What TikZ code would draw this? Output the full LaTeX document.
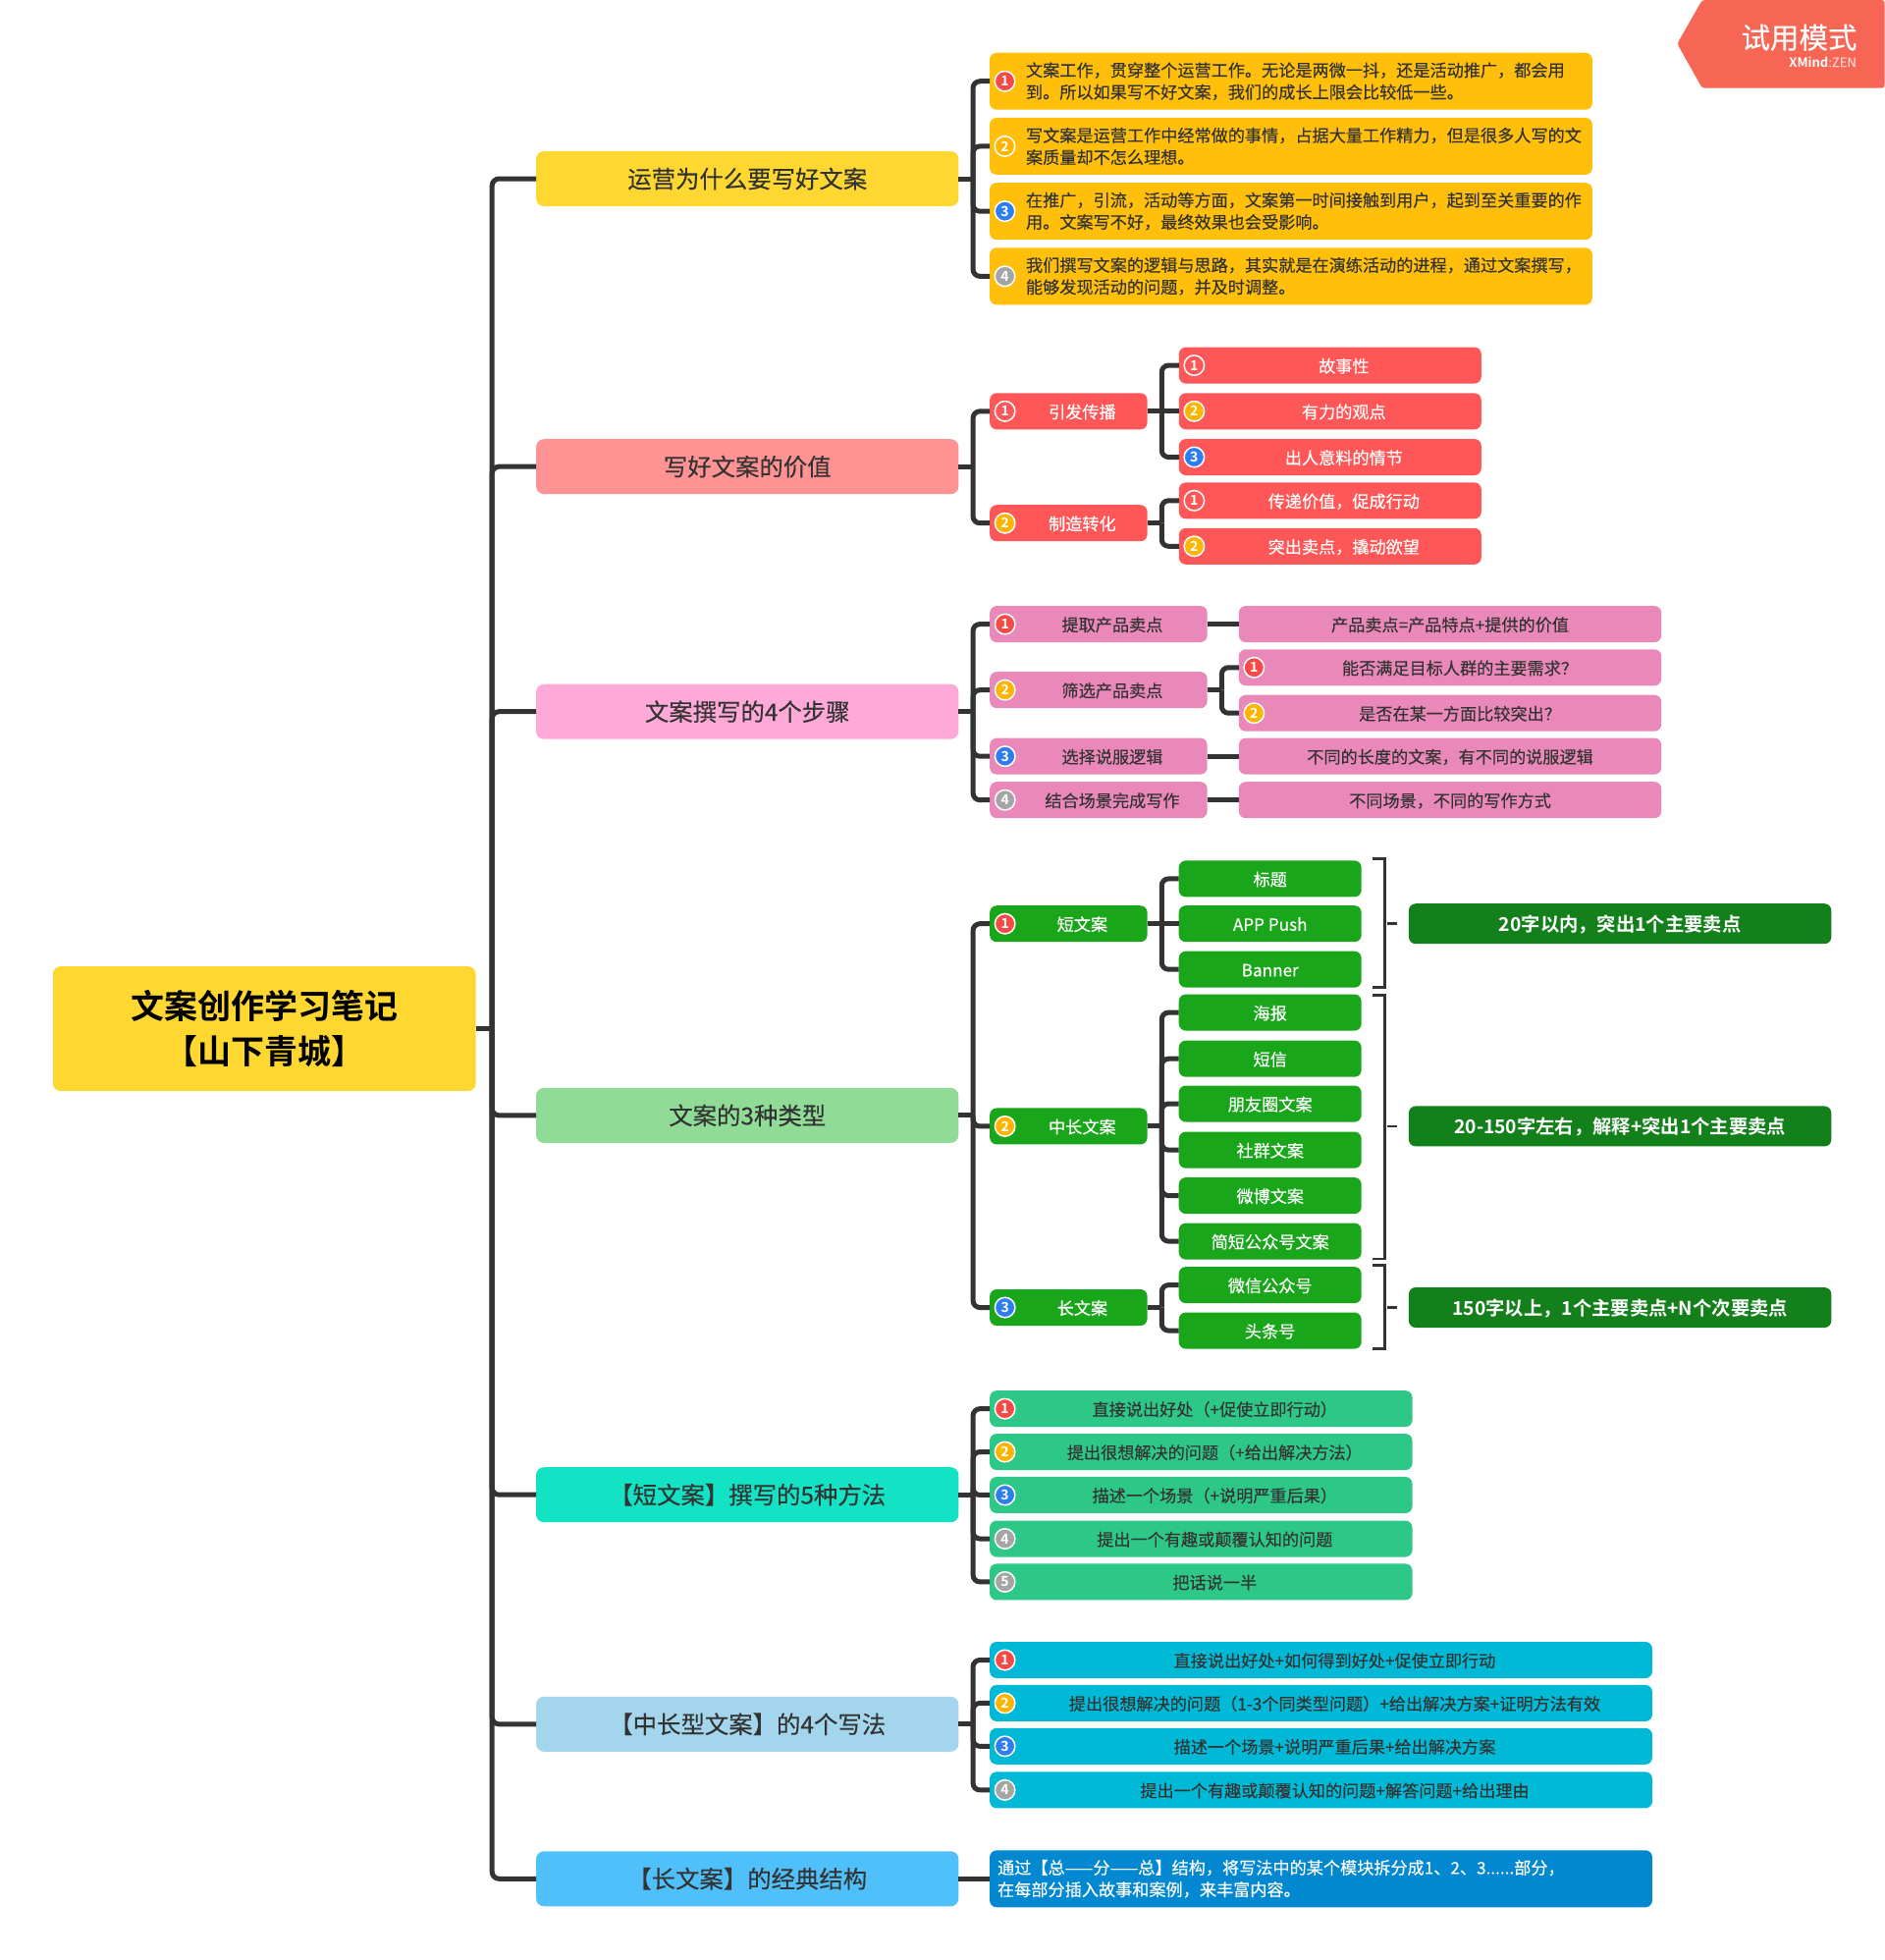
\documentclass[tikz,border=0pt]{standalone}
\usepackage{fontspec}
\setmainfont{Noto Sans CJK SC}[FakeBold=0.22]
\newfontfamily\heavy{Noto Sans CJK SC Bold}
\definecolor{ink}{HTML}{333333}
\definecolor{cRoot}{HTML}{FFD731}
\definecolor{cAmber}{HTML}{FFBF0A}
\definecolor{cSalmon}{HTML}{FF9393}
\definecolor{cRed}{HTML}{FF5757}
\definecolor{cPink}{HTML}{FFA9D9}
\definecolor{cRose}{HTML}{E988B9}
\definecolor{cMint}{HTML}{90DC96}
\definecolor{cGreen}{HTML}{19A61A}
\definecolor{cDeep}{HTML}{14801C}
\definecolor{cAqua}{HTML}{11E3C4}
\definecolor{cSea}{HTML}{2DC788}
\definecolor{cPale}{HTML}{A3D6EC}
\definecolor{cCyan}{HTML}{00B9D6}
\definecolor{cSky}{HTML}{50C0FA}
\definecolor{cBlue}{HTML}{0288D1}
\definecolor{mRed}{HTML}{F54A45}
\definecolor{mAmb}{HTML}{FFB400}
\definecolor{mBlu}{HTML}{2E7EF0}
\definecolor{mGry}{HTML}{A5A5A5}
\definecolor{cTag}{HTML}{F76554}
\tikzset{
  box/.style={rectangle,rounded corners=7pt,inner sep=0pt,outer sep=0pt,minimum height=37pt,text=ink,font=\fontsize{17.15}{22.3}\selectfont},
  lift/.style={text height=16.3pt,text depth=2pt},
  rootbox/.style={box,fill=cRoot,minimum width=431pt,minimum height=127pt,text=black,align=center,rounded corners=8pt,font=\fontsize{34}{46}\selectfont\heavy},
  mainbox/.style={box,minimum width=430.5pt,minimum height=56pt,rounded corners=8pt,font=\fontsize{24.4}{30}\selectfont},
  para/.style={box,fill=cAmber,minimum width=614pt,minimum height=58pt},
  redp/.style={box,lift,fill=cRed,text=white,minimum width=160.5pt},
  redc/.style={box,lift,fill=cRed,text=white,minimum width=308pt},
  rosel/.style={box,lift,fill=cRose,minimum width=221.5pt},
  roser/.style={box,lift,fill=cRose,minimum width=430.5pt},
  grnp/.style={box,lift,fill=cGreen,text=white,minimum width=160.5pt},
  grnc/.style={box,lift,fill=cGreen,text=white,minimum width=186pt},
  grns/.style={box,fill=cDeep,text=white,minimum width=430.5pt,minimum height=41pt,text height=18pt,text depth=2pt,font=\fontsize{19.3}{24}\selectfont\heavy},
  seabox/.style={box,lift,fill=cSea,minimum width=430.5pt},
  cyanbox/.style={box,lift,fill=cCyan,minimum width=675pt},
  bluebox/.style={box,fill=cBlue,text=white,minimum width=675pt,minimum height=58pt},
  dot/.style={circle,draw=white,line width=1.5pt,inner sep=0pt,minimum size=20.5pt,text=white,font=\fontsize{14}{14}\selectfont\heavy},
  conn/.style={draw=ink,line width=5pt},
  brk/.style={draw=ink,line width=2.6pt},
}
\newcommand{\ms}{\hspace*{28pt}}
\newcommand{\ml}{\hspace*{20pt}}
\newcommand{\twol}[4]{\hspace*{#1}\raisebox{-1pt}{\parbox[c]{#2}{\raggedright #3\\#4}}}
\newcommand{\lnk}[2]{\draw[conn] (#1.east) -- ++(11.5,0) coordinate (j);\draw[conn,rounded corners=7pt] (j) |- (#2.west);}
\newcommand{\rlnk}[2]{\draw[conn] (#1.east) -- ++(13,0) coordinate (j);\draw[conn,rounded corners=7pt] (j) |- (#2.west);}
\newcommand{\strt}[2]{\draw[conn] (#1.east) -- (#2.west);}
\newcommand{\dotn}[4]{\node[dot,fill=#3] (#1m) at ([xshift=#2pt]#1.west) {#4};}
\begin{document}
\begin{tikzpicture}[x=1.27321pt,y=-1.27321pt]
\useasboundingbox (0,0) rectangle (1508,1568);
% tag
\fill[cTag,rounded corners=3pt] (1362,0) -- (1342,35) -- (1362,70.5) -- (1508,70.5) -- (1508,0) -- cycle;
\node[inner sep=0pt,text=white,anchor=east,font=\fontsize{29.5}{32}\selectfont] (tagA) at (1486,30) {试用模式};
\node[inner sep=0pt,anchor=east,font=\fontsize{13}{14}\selectfont] (tagB) at (1485.5,49.5) {\textcolor{white}{\heavy XMind}\textcolor{white!70!cTag}{:ZEN}};
% root and main topics
\node[rootbox] (root) at (211.5,823) {文案创作学习笔记\\【山下青城】};
\node[mainbox,fill=cRoot]   (a) at (598,143)  {运营为什么要写好文案};
\node[mainbox,fill=cSalmon] (b) at (598,373.3)  {写好文案的价值};
\node[mainbox,fill=cPink]   (c) at (598,569.3)  {文案撰写的4个步骤};
\node[mainbox,fill=cMint]   (d) at (598,892.3)  {文案的3种类型};
\node[mainbox,fill=cAqua]   (e) at (598,1195.8) {【短文案】撰写的5种方法};
\node[mainbox,fill=cPale]   (f) at (598,1379.3) {【中长型文案】的4个写法};
\node[mainbox,fill=cSky]    (g) at (598,1503) {【长文案】的经典结构};
% group a
\node[para] (a1) at (1033,65)  {\twol{37pt}{577pt}{文案工作，贯穿整个运营工作。无论是两微一抖，还是活动推广，都会用}{到。所以如果写不好文案，我们的成长上限会比较低一些。}};
\node[para] (a2) at (1033,117) {\twol{37pt}{577pt}{写文案是运营工作中经常做的事情，占据大量工作精力，但是很多人写的文}{案质量却不怎么理想。}};
\node[para] (a3) at (1033,169) {\twol{37pt}{577pt}{在推广，引流，活动等方面，文案第一时间接触到用户，起到至关重要的作}{用。文案写不好，最终效果也会受影响。}};
\node[para] (a4) at (1033,221) {\twol{37pt}{577pt}{我们撰写文案的逻辑与思路，其实就是在演练活动的进程，通过文案撰写，}{能够发现活动的问题，并及时调整。}};
% group b
\node[redp] (b1) at (855,329) {\ms 引发传播};
\node[redp] (b2) at (855,418.5) {\ms 制造转化};
\node[redc] (b11) at (1064.3,292.3)   {\ms 故事性};
\node[redc] (b12) at (1064.3,329)   {\ms 有力的观点};
\node[redc] (b13) at (1064.3,365.7) {\ms 出人意料的情节};
\node[redc] (b21) at (1064.3,400.5) {\ms 传递价值，促成行动};
\node[redc] (b22) at (1064.3,437)   {\ms 突出卖点，撬动欲望};
% group c
\node[rosel] (c1) at (879,499.3) {\ms 提取产品卖点};
\node[rosel] (c2) at (879,552) {\ms 筛选产品卖点};
\node[rosel] (c3) at (879,605) {\ms 选择说服逻辑};
\node[rosel] (c4) at (879,640) {\ms 结合场景完成写作};
\node[roser] (c11) at (1160.3,499.3)   {产品卖点=产品特点+提供的价值};
\node[roser] (c21) at (1160.3,534)   {\ml 能否满足目标人群的主要需求？};
\node[roser] (c22) at (1160.3,570.5) {\ml 是否在某一方面比较突出？};
\node[roser] (c31) at (1160.3,605)   {不同的长度的文案，有不同的说服逻辑};
\node[roser] (c41) at (1160.3,640)   {不同场景，不同的写作方式};
% group d
\node[grnp] (d1) at (855,739)  {\ms 短文案};
\node[grnp] (d2) at (855,901)  {\ms 中长文案};
\node[grnp] (d3) at (855,1046) {\ms 长文案};
\node[grnc] (d11) at (1016.3,703)   {标题};
\node[grnc] (d12) at (1016.3,739)   {APP Push};
\node[grnc] (d13) at (1016.3,775.5) {Banner};
\node[grnc] (d21) at (1016.3,810)   {海报};
\node[grnc] (d22) at (1016.3,847)   {短信};
\node[grnc] (d23) at (1016.3,883)   {朋友圈文案};
\node[grnc] (d24) at (1016.3,920)   {社群文案};
\node[grnc] (d25) at (1016.3,956.5) {微博文案};
\node[grnc] (d26) at (1016.3,993)   {简短公众号文案};
\node[grnc] (d31) at (1016.3,1028)  {微信公众号};
\node[grnc] (d32) at (1016.3,1064.5){头条号};
\node[grns] (s1) at (1296.3,739)  {20字以内，突出1个主要卖点};
\node[grns] (s2) at (1296.3,901)  {20-150字左右，解释+突出1个主要卖点};
\node[grns] (s3) at (1296.3,1046) {150字以上，1个主要卖点+N个次要卖点};
% group e
\node[seabox] (e1) at (961,1127)   {\ms 直接说出好处（+促使立即行动）};
\node[seabox] (e2) at (961,1161.5) {\ms 提出很想解决的问题（+给出解决方法）};
\node[seabox] (e3) at (961,1196)   {\ms 描述一个场景（+说明严重后果）};
\node[seabox] (e4) at (961,1231)   {\ms 提出一个有趣或颠覆认知的问题};
\node[seabox] (e5) at (961,1265.5) {\ms 把话说一半};
% group f
\node[cyanbox] (f1) at (1057,1328)   {\ms 直接说出好处+如何得到好处+促使立即行动};
\node[cyanbox] (f2) at (1057,1362.5) {\ms 提出很想解决的问题（1-3个同类型问题）+给出解决方案+证明方法有效};
\node[cyanbox] (f3) at (1057,1397)   {\ms 描述一个场景+说明严重后果+给出解决方案};
\node[cyanbox] (f4) at (1057,1432)   {\ms 提出一个有趣或颠覆认知的问题+解答问题+给出理由};
% group g
\node[bluebox] (g1) at (1057,1503) {\twol{8pt}{667pt}{通过【总——分——总】结构，将写法中的某个模块拆分成1、2、3......部分，}{在每部分插入故事和案例，来丰富内容。}};
% connectors
\foreach \t in {a,b,c,d,e,f,g}{\rlnk{root}{\t}}
\foreach \t in {a1,a2,a3,a4}{\lnk{a}{\t}}
\foreach \t in {b1,b2}{\lnk{b}{\t}}
\foreach \t in {b11,b13}{\lnk{b1}{\t}}
\strt{b1}{b12}
\foreach \t in {b21,b22}{\lnk{b2}{\t}}
\foreach \t in {c1,c2,c3,c4}{\lnk{c}{\t}}
\strt{c1}{c11}
\foreach \t in {c21,c22}{\lnk{c2}{\t}}
\strt{c3}{c31}
\strt{c4}{c41}
\foreach \t in {d1,d2,d3}{\lnk{d}{\t}}
\foreach \t in {d11,d13}{\lnk{d1}{\t}}
\strt{d1}{d12}
\foreach \t in {d21,d22,d23,d24,d25,d26}{\lnk{d2}{\t}}
\foreach \t in {d31,d32}{\lnk{d3}{\t}}
\foreach \t in {e1,e2,e3,e4,e5}{\lnk{e}{\t}}
\foreach \t in {f1,f2,f3,f4}{\lnk{f}{\t}}
\strt{g}{g1}
% brackets
\coordinate (k1a) at (1098,687);  \coordinate (k1b) at (1108,687);  \coordinate (k1c) at (1108,790);  \coordinate (k1d) at (1098,790);
\coordinate (k2a) at (1098,796);  \coordinate (k2b) at (1108,796);  \coordinate (k2c) at (1108,1007); \coordinate (k2d) at (1098,1007);
\coordinate (k3a) at (1098,1012); \coordinate (k3b) at (1108,1012); \coordinate (k3c) at (1108,1079); \coordinate (k3d) at (1098,1079);
\coordinate (t1a) at (1110,739);  \coordinate (t1b) at (1118,739);
\coordinate (t2a) at (1110,901);  \coordinate (t2b) at (1118,901);
\coordinate (t3a) at (1110,1046); \coordinate (t3b) at (1118,1046);
\foreach \n in {1,2,3}{
  \draw[brk] (k\n a) -- (k\n b) -- (k\n c) -- (k\n d);
  \draw[brk] (t\n a) -- (t\n b);
}
% markers
\dotn{a1}{15.5}{mRed}{1}\dotn{a2}{15.5}{mAmb}{2}\dotn{a3}{15.5}{mBlu}{3}\dotn{a4}{15.5}{mGry}{4}
\dotn{b1}{15.5}{cRed}{1}\dotn{b2}{15.5}{mAmb}{2}
\dotn{b11}{15.5}{cRed}{1}\dotn{b12}{15.5}{mAmb}{2}\dotn{b13}{15.5}{mBlu}{3}
\dotn{b21}{15.5}{cRed}{1}\dotn{b22}{15.5}{mAmb}{2}
\dotn{c1}{15.5}{mRed}{1}\dotn{c2}{15.5}{mAmb}{2}\dotn{c3}{15.5}{mBlu}{3}\dotn{c4}{15.5}{mGry}{4}
\dotn{c21}{15.5}{mRed}{1}\dotn{c22}{15.5}{mAmb}{2}
\dotn{d1}{15.5}{mRed}{1}\dotn{d2}{15.5}{mAmb}{2}\dotn{d3}{15.5}{mBlu}{3}
\dotn{e1}{15.5}{mRed}{1}\dotn{e2}{15.5}{mAmb}{2}\dotn{e3}{15.5}{mBlu}{3}\dotn{e4}{15.5}{mGry}{4}\dotn{e5}{15.5}{mGry}{5}
\dotn{f1}{15.5}{mRed}{1}\dotn{f2}{15.5}{mAmb}{2}\dotn{f3}{15.5}{mBlu}{3}\dotn{f4}{15.5}{mGry}{4}
\end{tikzpicture}
\end{document}
